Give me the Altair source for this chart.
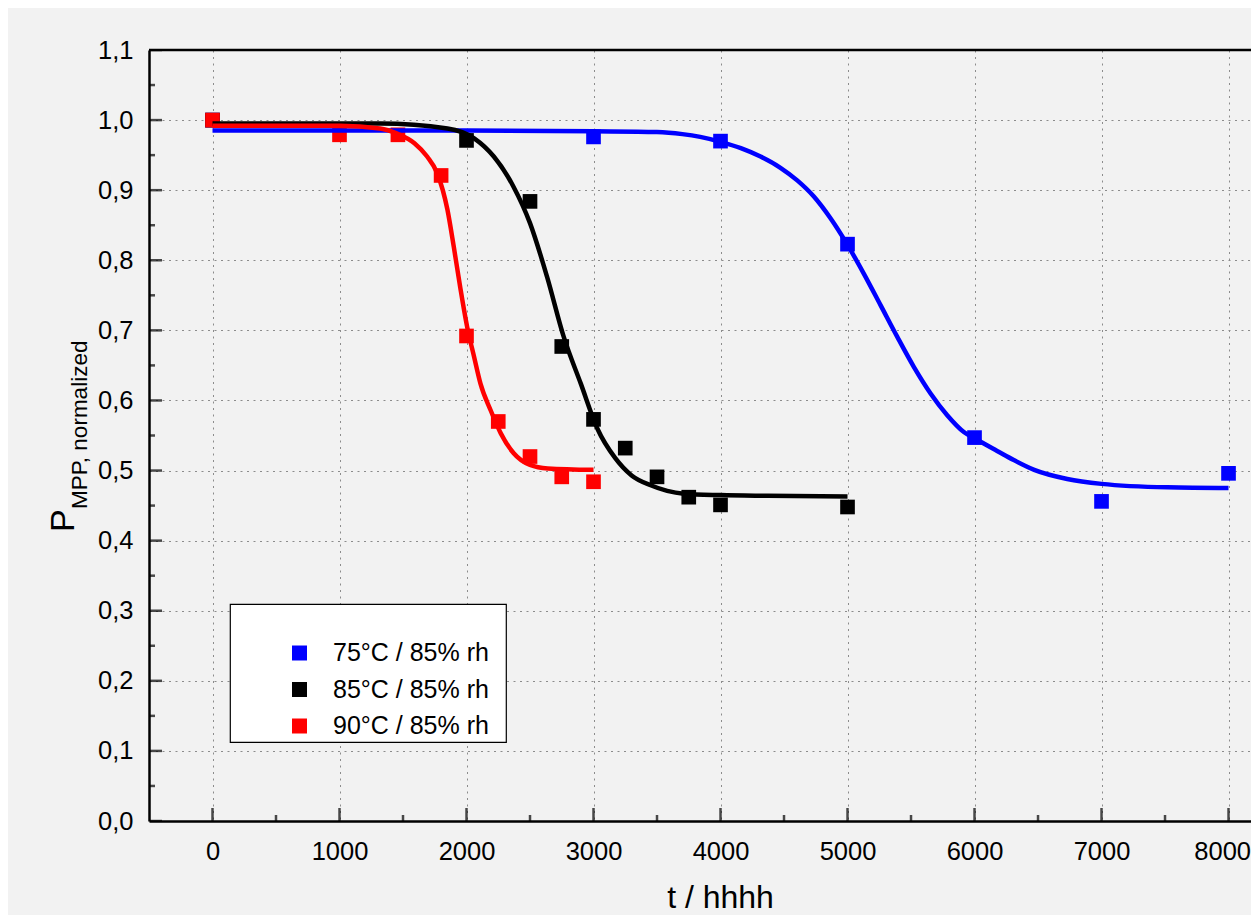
import altair as alt
import pandas as pd

SERIES = ["75°C / 85% rh", "85°C / 85% rh", "90°C / 85% rh"]
COLORS = ["#0000ff", "#000000", "#ff0000"]

# measured points
BLUE_T = [0, 3000, 4000, 5000, 6000, 7000, 8000]
BLUE_V = [1.0, 0.976, 0.970, 0.823, 0.547, 0.456, 0.496]
BLACK_T = [0, 2000, 2500, 2750, 3000, 3250, 3500, 3750, 4000, 5000]
BLACK_V = [1.0, 0.971, 0.884, 0.677, 0.573, 0.532, 0.491, 0.462, 0.451, 0.448]
RED_T = [0, 1000, 1460, 1800, 2000, 2250, 2500, 2750, 3000]
RED_V = [1.0, 0.979, 0.979, 0.921, 0.692, 0.570, 0.520, 0.491, 0.484]

# fitted curves
BLUE_FIT_T = [0, 2000, 3000, 3500, 3700, 3840, 4000, 4160, 4315, 4472, 4604, 4735, 4866, 5000,
              5128, 5260, 5391, 5522, 5654, 5785, 5916, 6000, 6178, 6309, 6470, 6730, 7000, 7520, 8000]
BLUE_FIT_V = [0.985, 0.985, 0.984, 0.983, 0.980, 0.976, 0.969, 0.960, 0.948, 0.932, 0.914, 0.891, 0.860, 0.822,
              0.781, 0.736, 0.691, 0.648, 0.610, 0.579, 0.555, 0.546, 0.528, 0.515, 0.501, 0.488, 0.481, 0.476, 0.475]
BLACK_FIT_T = [0, 1320, 1850, 2060, 2215, 2370, 2500, 2635, 2765, 2900, 3030, 3170, 3300,
               3450, 3580, 3710, 4000, 4370, 5000]
BLACK_FIT_V = [0.995, 0.995, 0.988, 0.974, 0.948, 0.905, 0.853, 0.776, 0.691, 0.624, 0.560, 0.518, 0.493,
               0.479, 0.471, 0.467, 0.465, 0.464, 0.463]
RED_FIT_T = [0, 1000, 1320, 1450, 1590, 1690, 1770, 1850, 1900, 1950, 2005, 2060, 2110,
             2190, 2270, 2370, 2500, 2640, 3000]
RED_FIT_V = [0.992, 0.992, 0.988, 0.981, 0.967, 0.948, 0.924, 0.872, 0.819, 0.762, 0.705, 0.662, 0.624,
             0.586, 0.553, 0.525, 0.508, 0.503, 0.501]

X_MAJOR = [0, 1000, 2000, 3000, 4000, 5000, 6000, 7000, 8000]
X_MINOR = [500, 1500, 2500, 3500, 4500, 5500, 6500, 7500]
Y_MAJOR = [0.0, 0.1, 0.2, 0.3, 0.4, 0.5, 0.6, 0.7, 0.8, 0.9, 1.0, 1.1]
Y_MINOR = [0.05, 0.15, 0.25, 0.35, 0.45, 0.55, 0.65, 0.75, 0.85, 0.95, 1.05]
X_DOMAIN = [-500, 8177]   # the original axis runs on past the right edge of the picture
Y_DOMAIN = [0.0, 1.1]
TOP_LINE = [1.1]
LAST_X_LABEL = 8000

FONT = "Liberation Sans"

pts = pd.concat([
    pd.DataFrame({"t": BLUE_T, "v": BLUE_V, "series": SERIES[0]}),
    pd.DataFrame({"t": BLACK_T, "v": BLACK_V, "series": SERIES[1]}),
    pd.DataFrame({"t": RED_T, "v": RED_V, "series": SERIES[2]}),
], ignore_index=True)
fits = pd.concat([
    pd.DataFrame({"t": BLUE_FIT_T, "v": BLUE_FIT_V, "series": SERIES[0]}),
    pd.DataFrame({"t": BLACK_FIT_T, "v": BLACK_FIT_V, "series": SERIES[1]}),
    pd.DataFrame({"t": RED_FIT_T, "v": RED_FIT_V, "series": SERIES[2]}),
], ignore_index=True)

xscale = alt.Scale(domain=X_DOMAIN, nice=False, zero=False)
yscale = alt.Scale(domain=Y_DOMAIN, nice=False, zero=False)
cscale = alt.Scale(domain=SERIES, range=COLORS)

last_test = f"datum.value == {LAST_X_LABEL}"
x_axis = alt.Axis(values=X_MAJOR, format="d", labelFontSize=25.5, labelPadding=18,
                  labelFlush=False, labelOverlap=False, ticks=False,
                  labelAlign={"condition": {"test": last_test, "value": "right"}, "value": "center"},
                  labelOffset={"condition": {"test": last_test, "value": 22}, "value": 0},
                  domain=True, domainColor="black", domainWidth=2.5,
                  grid=True, title="t / hhhh", titleFontSize=32, titleFontWeight="normal",
                  titlePadding=18, titleColor="black", labelColor="black",
                  titleX=571, titleAlign="center", titleAnchor="start")
y_axis = alt.Axis(values=Y_MAJOR, labelExpr="replace(format(datum.value, '.1f'), '.', ',')",
                  labelFontSize=25.5, labelPadding=16, labelFlush=False, labelOverlap=False,
                  ticks=False, domain=True, domainColor="black", domainWidth=2.5,
                  grid=True, title=None, labelColor="black")

X = alt.X("t:Q", scale=xscale, axis=x_axis)
Y = alt.Y("v:Q", scale=yscale, axis=y_axis)

legend = alt.Legend(
    orient="none", legendX=81, legendY=554, title="\u00a0", titleFontSize=20, titlePadding=13.5,
    padding=3, fillColor="white", strokeColor="black",
    symbolType="square", symbolSize=225, symbolStrokeWidth=0, symbolOffset=54,
    labelOffset=21, labelFontSize=25, labelColor="black", labelFont=FONT, labelLimit=400,
    labelExpr="datum.label + '\u00a0\u00a0\u200b'", rowPadding=10.5,
)

points = alt.Chart(pts).mark_square(size=215, opacity=1).encode(
    x=X, y=Y,
    color=alt.Color("series:N", scale=cscale, legend=legend, sort=SERIES),
)

lines = alt.Chart(fits).mark_line(strokeWidth=4.5, interpolate="monotone").encode(
    x=X, y=Y,
    color=alt.Color("series:N", scale=cscale, legend=None),
)

yt = pd.concat([
    pd.DataFrame({"t": X_DOMAIN[0], "v": Y_MAJOR, "len": 26}),
    pd.DataFrame({"t": X_DOMAIN[0], "v": Y_MINOR, "len": 12}),
], ignore_index=True)
xt = pd.concat([
    pd.DataFrame({"t": X_MAJOR, "v": Y_DOMAIN[0], "len": 26}),
    pd.DataFrame({"t": X_MINOR, "v": Y_DOMAIN[0], "len": 12}),
], ignore_index=True)

ytick = alt.Chart(yt).mark_tick(orient="horizontal", thickness=2.5, color="black", clip=True).encode(
    x=X, y=Y, size=alt.Size("len:Q", scale=None, legend=None),
)
xtick = alt.Chart(xt).mark_tick(orient="vertical", thickness=2.5, color="black", clip=True).encode(
    x=X, y=Y, size=alt.Size("len:Q", scale=None, legend=None),
)
topline = alt.Chart(pd.DataFrame({"v": TOP_LINE})).mark_rule(color="black", strokeWidth=2.5).encode(y=Y)

ptitle = alt.Chart(pd.DataFrame({"s": ["P"]})).mark_text(
    angle=270, align="left", baseline="alphabetic", fontSize=34, font=FONT, color="black"
).encode(text="s:N", x=alt.value(-75), y=alt.value(482))
subtitle = alt.Chart(pd.DataFrame({"s": ["MPP, normalized"]})).mark_text(
    angle=270, align="left", baseline="alphabetic", fontSize=22.5, font=FONT, color="black"
).encode(text="s:N", x=alt.value(-62), y=alt.value(459))

chart = alt.layer(points, lines, ytick, xtick, topline, ptitle, subtitle).properties(
    width=1102, height=771,
    autosize=alt.AutoSizeParams(type="none"),
    padding={"left": 141, "top": 42, "right": 0, "bottom": 100},
    background="#f2f2f2",
).configure(font=FONT).configure_axis(
    gridColor="#8c8c8c", gridDash=[2, 4.5], gridWidth=1, labelFont=FONT, titleFont=FONT,
).configure_legend(strokeWidth=1.2, cornerRadius=0).configure_view(stroke=None)

chart.save("out.html", embed_options={"renderer": "svg", "actions": False})
